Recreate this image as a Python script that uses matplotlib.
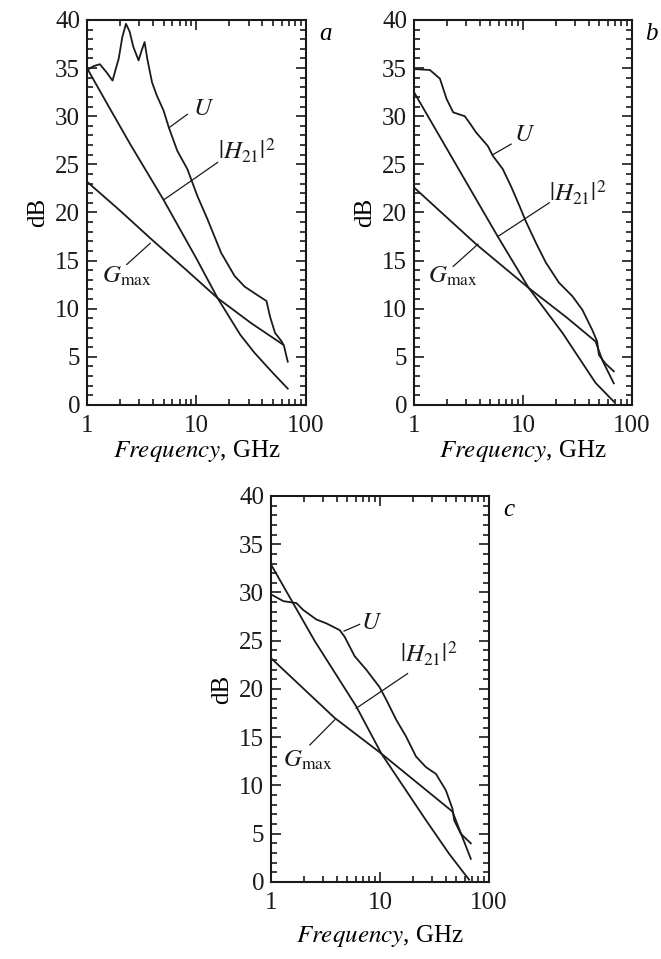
import matplotlib
matplotlib.use('Agg')
import matplotlib.pyplot as plt
from matplotlib.ticker import MultipleLocator, NullFormatter, LogLocator

plt.rcParams['font.family'] = ['Liberation Serif', 'DejaVu Serif']
plt.rcParams['mathtext.fontset'] = 'stix'
plt.rcParams['font.size'] = 18

#%% data (frequency in GHz, gain in dB)
# panel a
fa_U = [1.0, 1.15, 1.31, 1.5, 1.71, 1.95, 2.1, 2.27, 2.45, 2.65, 2.96, 3.15, 3.36, 3.55, 3.93,
        4.36, 5.0, 5.6, 6.68, 8.26, 10.2, 12.6, 16.8, 22.3, 27.5, 34.0, 43.6, 46.9, 52.1,
        60.0, 63.1, 66.8, 68.2]
a_U = [34.8, 35.2, 35.4, 34.6, 33.7, 36.0, 38.2, 39.6, 38.8, 37.2, 35.8, 36.8, 37.7, 36.0, 33.5,
       32.1, 30.6, 28.8, 26.4, 24.5, 21.7, 19.3, 15.8, 13.4, 12.3, 11.6, 10.8, 9.2, 7.5,
       6.6, 6.1, 4.9, 4.5]
fa_H = [1.0, 1.58, 2.51, 5.01, 10.0, 15.6, 25.1, 34.0, 50.1, 68.2]
a_H = [35.0, 31.0, 27.0, 21.3, 15.2, 11.1, 7.3, 5.4, 3.3, 1.7]
fa_G = [1.0, 2.0, 3.98, 7.94, 15.6, 31.6, 62.2]
a_G = [23.2, 20.2, 17.1, 14.1, 11.1, 8.5, 6.25]

# panel b
fb_U = [1.0, 1.4, 1.73, 1.99, 2.29, 2.92, 3.24, 3.72, 4.44, 4.76, 5.28, 6.53, 7.78, 9.27,
        10.6, 13.2, 16.2, 21.4, 28.4, 35.0, 43.2, 47.9, 49.7, 57.1, 68.1]
b_U = [34.9, 34.8, 33.9, 31.8, 30.4, 30.0, 29.3, 28.3, 27.3, 26.9, 25.9, 24.5, 22.7, 20.7,
       19.1, 16.8, 14.8, 12.7, 11.3, 9.9, 7.8, 6.6, 5.2, 4.3, 3.5]
fb_H = [1.0, 2.51, 5.87, 11.3, 23.0, 46.3, 68.1]
b_H = [32.5, 24.7, 17.5, 12.15, 7.5, 2.3, 0.35]
fb_G = [1.0, 3.72, 11.3, 25.1, 46.3, 53.7, 68.1]
b_G = [22.6, 16.7, 12.15, 9.1, 6.6, 4.6, 2.25]

# panel c
fc_U = [1.0, 1.3, 1.71, 1.97, 2.61, 3.22, 4.27, 4.74, 5.85, 7.48, 9.89, 11.4, 14.1, 17.3,
        21.4, 26.4, 32.6, 40.2, 46.2, 47.9, 55.1, 68.1]
c_U = [29.8, 29.1, 28.9, 28.2, 27.2, 26.8, 26.1, 25.4, 23.4, 22.0, 20.2, 18.9, 16.8, 15.1,
       13.0, 11.9, 11.2, 9.5, 7.6, 6.4, 5.0, 4.0]
fc_H = [1.0, 2.51, 6.05, 10.3, 26.4, 43.2, 65.6]
c_H = [32.9, 25.0, 18.2, 13.3, 6.4, 2.9, 0.24]
fc_G = [1.0, 3.84, 10.3, 46.2, 52.0, 68.1]
c_G = [23.2, 17.0, 13.3, 7.3, 5.8, 2.4]

# curve labels: text, text position, pointer start, pointer end
lab_a = [('$U$', (9.2, 30.7), (5.6, 28.8), (8.26, 30.2)),
         ('$|H_{21}|^2$', (15.6, 26.4), (5.01, 21.3), (15.6, 25.2)),
         ('$G_{\\rm max}$', (1.36, 13.4), (2.31, 14.6), (3.78, 16.8))]
lab_b = [('$U$', (8.34, 28.0), (5.28, 26.0), (7.78, 27.1)),
         ('$|H_{21}|^2$', (17.4, 22.0), (5.87, 17.5), (17.4, 21.0)),
         ('$G_{\\rm max}$', (1.35, 13.4), (2.29, 14.4), (3.86, 16.7))]
lab_c = [('$U$', (6.73, 26.8), (4.68, 26.0), (6.5, 26.7)),
         ('$|H_{21}|^2$', (15.3, 23.6), (6.05, 18.0), (17.9, 21.6)),
         ('$G_{\\rm max}$', (1.28, 12.6), (2.27, 14.2), (3.84, 16.8))]

#%%
fig = plt.figure(figsize=(6.61, 9.59), dpi=100)
ax_a = fig.add_axes([0.1316, 0.5777, 0.3313, 0.4015])
ax_b = fig.add_axes([0.6263, 0.5777, 0.3298, 0.4015])
ax_c = fig.add_axes([0.41, 0.0803, 0.3298, 0.4025])

panels = [(ax_a, 'a', fa_U, a_U, fa_H, a_H, fa_G, a_G, lab_a, 1),
          (ax_b, 'b', fb_U, b_U, fb_H, b_H, fb_G, b_G, lab_b, 1),
          (ax_c, 'c', fc_U, c_U, fc_H, c_H, fc_G, c_G, lab_c, 7)]

col = '#1a1a1a'
for ax, letter, fU, U, fH, H, fG, G, labs, lpad in panels:
    ax.plot(fU, U, color=col, lw=1.3)
    ax.plot(fH, H, color=col, lw=1.3)
    ax.plot(fG, G, color=col, lw=1.3)
    for txt, tpos, p0, p1 in labs:
        ax.plot([p0[0], p1[0]], [p0[1], p1[1]], color=col, lw=0.9)
        ax.text(tpos[0], tpos[1], txt, ha='left', va='center', fontsize=18, color=col)

    ax.set_xscale('log')
    ax.set_xlim(1, 100)
    ax.set_ylim(0, 40)
    ax.set_xticks([1, 10, 100])
    ax.set_xticklabels(['1', '10', '100'])
    ax.xaxis.set_minor_locator(LogLocator(base=10, subs=range(2, 10)))
    ax.xaxis.set_minor_formatter(NullFormatter())
    ax.set_yticks(range(0, 41, 5))
    ax.yaxis.set_minor_locator(MultipleLocator(1))
    ax.tick_params(which='both', direction='in', top=True, right=True, width=1.2, colors=col)
    ax.tick_params(which='major', length=7)
    ax.tick_params(which='minor', length=4.5)
    ax.tick_params(axis='x', which='major', pad=7)
    ax.tick_params(axis='y', which='major', pad=5)
    for s in ax.spines.values():
        s.set_linewidth(1.5)
        s.set_color(col)

    ax.set_ylabel('dB', labelpad=4)
    ax.set_xlabel('$\\it{Frequency}$, GHz', labelpad=lpad)
    ax.text(1.09, 0.963, letter, transform=ax.transAxes, ha='center', va='center',
            fontsize=18, style='italic')

plt.savefig('out.png', dpi=100)
